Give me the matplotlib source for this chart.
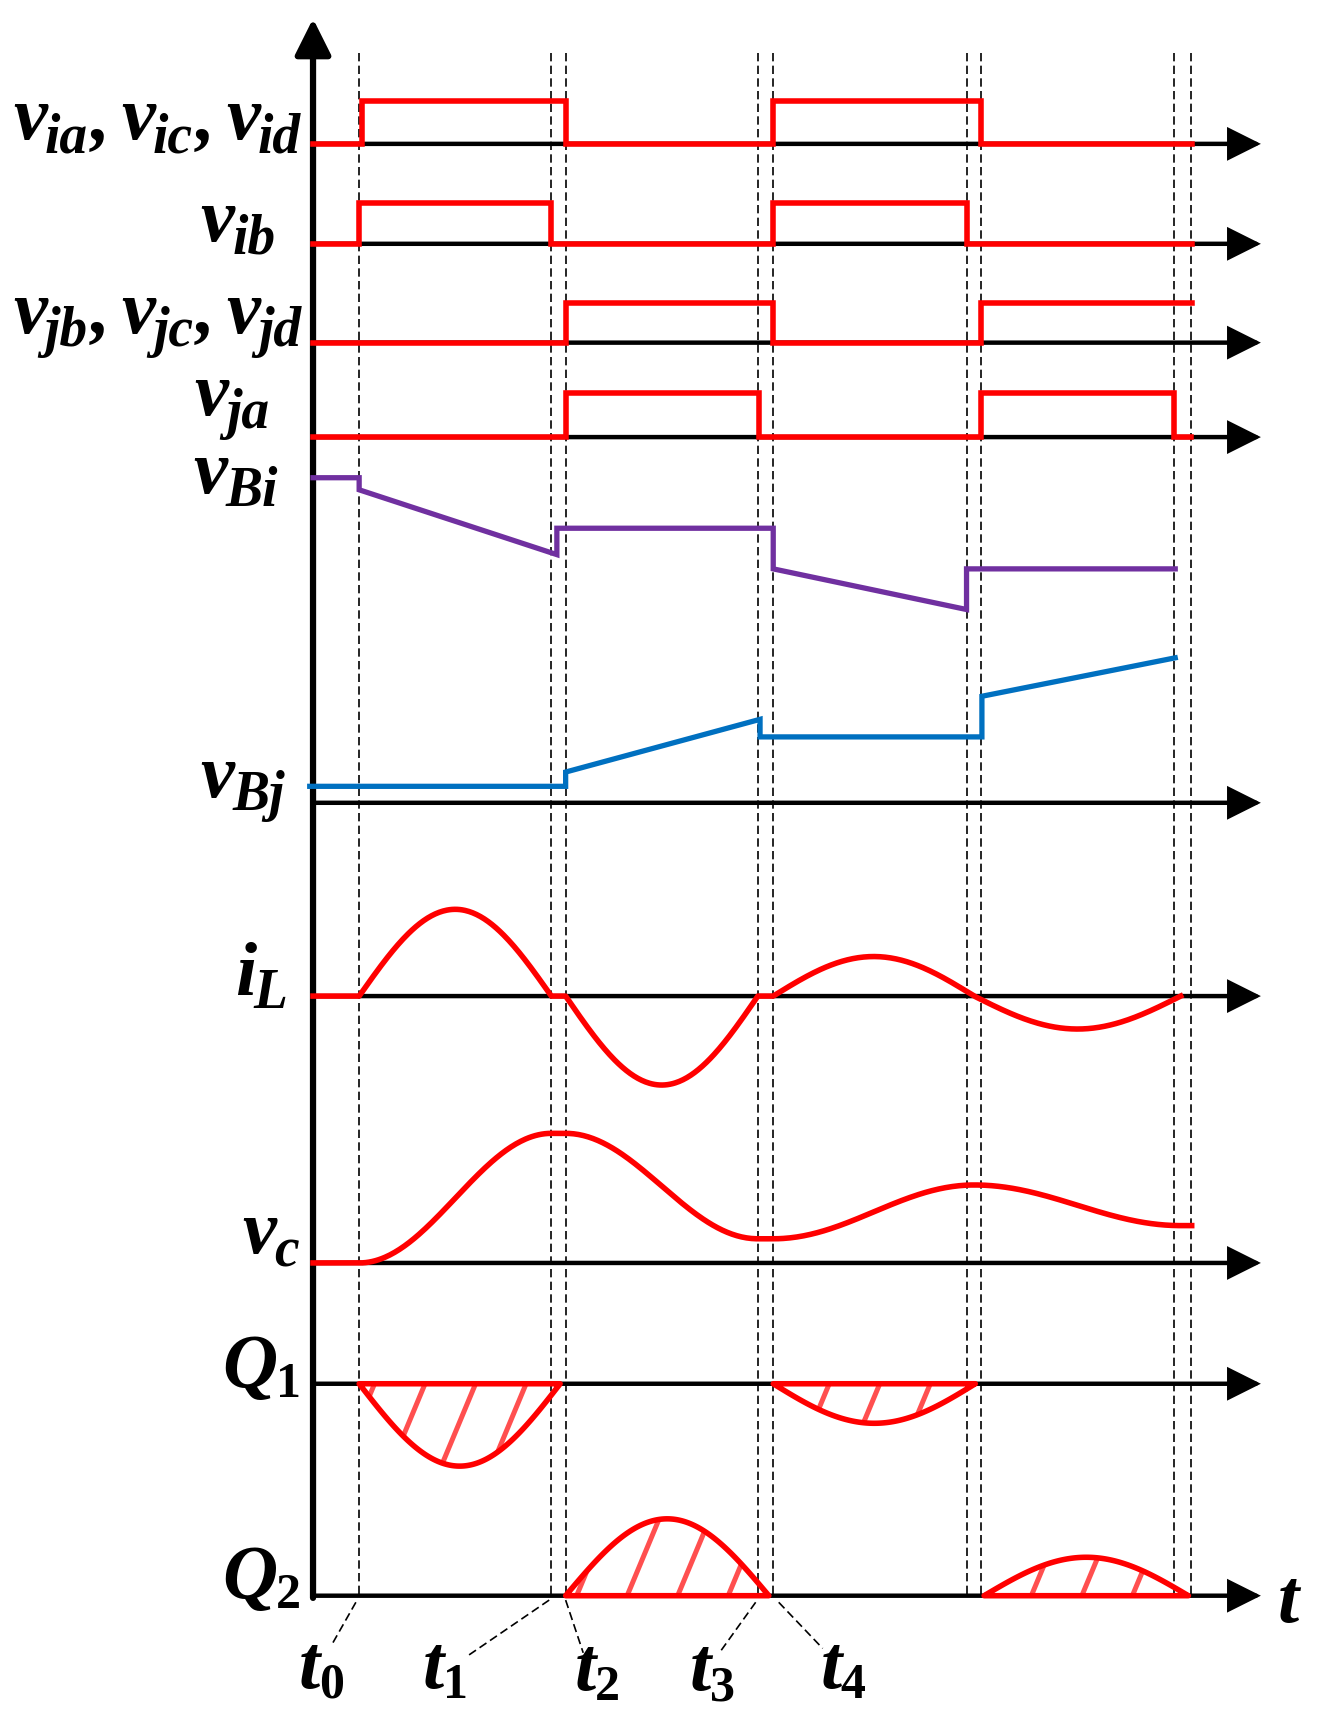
import numpy as np
import matplotlib.pyplot as plt
import matplotlib.transforms as mtransforms
from matplotlib.patches import Polygon

plt.rcParams['font.family'] = ['Liberation Serif', 'DejaVu Serif']

# ---- data (time in arbitrary units, values in arbitrary units) ----
t_marks = [0.42, 2.17, 2.30, 4.05, 4.19, 5.95, 6.08, 7.84, 7.99]

# gate signals: all start low, toggle at each edge
via_edges = [0.45, 2.30, 4.19, 6.08]
vib_edges = [0.42, 2.17, 4.19, 5.95]
vjb_edges = [2.30, 4.19, 6.08]
vja_edges = [2.30, 4.06, 6.08, 7.84]
gate_stop = [8.0, 8.0, 8.0, 7.99]

# bus voltages
vBi_t = [0.0, 0.42, 0.42, 2.22, 2.22, 4.19, 4.19, 5.95, 5.95, 7.85]
vBi_v = [29.6, 29.6, 28.5, 22.6, 25.0, 25.0, 21.3, 17.6, 21.3, 21.3]
vBj_t = [-0.03, 2.30, 2.30, 4.07, 4.07, 6.09, 6.09, 7.85]
vBj_v = [1.5, 1.5, 2.8, 7.6, 6.0, 6.0, 9.7, 13.2]

# inductor current half-waves
iL_start = [0.42, 2.30, 4.19, 6.02]
iL_stop = [2.17, 4.05, 6.02, 7.90]
iL_peak = [7.9, -8.1, 3.6, -3.0]

# capacitor voltage levels at the switching instants
vc_t = [0.42, 2.17, 2.30, 4.05, 4.19, 6.02, 7.90]
vc_v = [0.0, 11.8, 11.8, 2.2, 2.2, 7.1, 3.4]

# charge lobes
Q1_start = [0.42, 4.19]
Q1_stop = [2.25, 6.03]
Q1_peak = [-7.5, -3.6]
Q2_start = [2.30, 6.11]
Q2_stop = [4.15, 7.97]
Q2_peak = [7.0, 3.5]

# ---- layout ----
gate_base = [131, 222, 312, 398]
gate_height = [39, 37, 36, 40]
vB_base = 731
iL_base = 907
vc_base = 1150
Q1_base = 1260
Q2_base = 1453
unit = 10  # px per value unit
x_arrow = 8.63

RED = '#ff0000'
PURPLE = '#7030a0'
BLUE = '#0070c0'


def gate_trace(edges, t_stop):
    ts = [0.0]
    lv = [0]
    level = 0
    for e in edges:
        ts += [e, e]
        lv += [level, 1 - level]
        level = 1 - level
    ts.append(t_stop)
    lv.append(level)
    return np.array(ts), np.array(lv)


def half_waves(starts, stops, peaks):
    xs, ys = [], []
    for a, b, p in zip(starts, stops, peaks):
        s = np.linspace(a, b, 150)
        xs.append(s)
        ys.append(p * np.sin(np.pi * (s - a) / (b - a)))
    return np.concatenate(xs), np.concatenate(ys)


def smooth_levels(kt, kv, t_first, t_last):
    xs, ys = [t_first], [kv[0]]
    for i in range(len(kt) - 1):
        a, b = kt[i], kt[i + 1]
        s = np.linspace(a, b, 120)
        xs.extend(s)
        ys.extend(kv[i] + (kv[i + 1] - kv[i]) * (1 - np.cos(np.pi * (s - a) / (b - a))) / 2)
    xs.append(t_last)
    ys.append(kv[-1])
    return np.array(xs), np.array(ys)


fig = plt.figure(figsize=(13.18, 17.22), dpi=100)
ax = fig.add_axes([0, 0, 1, 1])
ax.set_xlim(-2.85, 9.15)
ax.set_ylim(1568, 0)
ax.axis('off')

# horizontal axes with arrows
for yb in gate_base + [vB_base, iL_base, vc_base, Q1_base, Q2_base]:
    ax.annotate('', xy=(x_arrow, yb), xytext=(0, yb),
                arrowprops=dict(arrowstyle='-|>', lw=3.2, color='k',
                                mutation_scale=48, shrinkA=0, shrinkB=0,
                                joinstyle='miter'), zorder=2)
# vertical axis
ax.annotate('', xy=(0, 17), xytext=(0, Q2_base + 2),
            arrowprops=dict(arrowstyle='-|>', lw=4.5, color='k',
                            mutation_scale=55, shrinkA=0, shrinkB=0), zorder=2)

# dashed time markers
ax.vlines(t_marks, 48, Q2_base, colors='k', lw=1.2, linestyles=(0, (5, 2.6)), zorder=3)

# gate waveforms
for edges, stop, yb, h in zip([via_edges, vib_edges, vjb_edges, vja_edges],
                              gate_stop, gate_base, gate_height):
    ts, lv = gate_trace(edges, stop)
    ax.plot(ts, yb - h * lv, color=RED, lw=4, solid_joinstyle='miter', zorder=4)

# bus voltages
ax.plot(vBi_t, vB_base - unit * np.array(vBi_v), color=PURPLE, lw=3.8,
        solid_joinstyle='miter', zorder=4)
ax.plot(vBj_t, vB_base - unit * np.array(vBj_v), color=BLUE, lw=3.8,
        solid_joinstyle='miter', zorder=4)

# inductor current
xs, ys = half_waves(iL_start, iL_stop, iL_peak)
xs = np.concatenate([[0.0], xs])
ys = np.concatenate([[0.0], ys])
ax.plot(xs, iL_base - unit * ys, color=RED, lw=4, zorder=4)

# capacitor voltage
xs, ys = smooth_levels(vc_t, vc_v, 0.0, 8.0)
ax.plot(xs, vc_base - unit * ys, color=RED, lw=4, zorder=4)


# hatched charge lobes
def lobe(a, b, p, yb):
    s = np.linspace(a, b, 150)
    yy = yb - unit * p * np.sin(np.pi * (s - a) / (b - a))
    verts = np.column_stack([s, yy])
    poly = Polygon(verts, closed=True, facecolor='none', edgecolor=RED,
                   lw=4, joinstyle='round', zorder=5)
    ax.add_patch(poly)
    clip = Polygon(verts, closed=True, facecolor='none', edgecolor='none')
    ax.add_patch(clip)
    for xk in np.arange(0.56 - 0.46 * 10, 9.0, 0.46):
        if xk < a - 0.4 or xk > b + 0.4:
            continue
        xl = np.array([xk - 0.4, xk + 0.4])
        yl = yb - 240 * (xl - xk)
        ln, = ax.plot(xl, yl, color='#ff3030', lw=3.6, alpha=0.85, zorder=4.5)
        ln.set_clip_path(clip)


for a, b, p in zip(Q1_start, Q1_stop, Q1_peak):
    lobe(a, b, p, Q1_base)
for a, b, p in zip(Q2_start, Q2_stop, Q2_peak):
    lobe(a, b, p, Q2_base)

# leader lines for time labels
leaders = [((0.39, 1459), (0.18, 1496)),
           ((2.15, 1457), (1.39, 1509)),
           ((2.30, 1457), (2.46, 1505)),
           ((4.03, 1459), (3.70, 1505)),
           ((4.24, 1459), (4.64, 1501))]
for (x0, y0), (x1, y1) in leaders:
    ax.plot([x0, x1], [y0, y1], color='k', lw=1.2, ls=(0, (5, 2.6)), zorder=3)

# ---- labels built from runs: main letter + lowered subscript ----
renderer = fig.canvas.get_renderer()
M, S, SD = 55, 40, 36      # main, letter subscript, digit subscript sizes
DROP, DDROP = -13, -10     # subscript drop in pixels


def run_width(s, size, style):
    t = ax.text(0, 0, s, fontsize=size, fontweight='bold', fontstyle=style)
    w = t.get_window_extent(renderer).width
    t.remove()
    return w


def compose(x, y, pieces, ha='right'):
    widths = [run_width(p[0], p[1], p[2]) for p in pieces]
    total = sum(w + p[4] for w, p in zip(widths, pieces)) - pieces[-1][4]
    dx = -total if ha == 'right' else 0.0
    for w, (s, size, style, dy, gap) in zip(widths, pieces):
        tr = mtransforms.offset_copy(ax.transData, fig=fig, x=dx, y=dy, units='dots')
        ax.text(x, y, s, transform=tr, fontsize=size, fontweight='bold',
                fontstyle=style, ha='left', va='baseline', color='k')
        dx += w + gap


def sym(main, sub, digit=False, tail=0):
    if digit:
        return [(main, M, 'italic', 0, -1), (sub, SD, 'normal', DDROP, tail)]
    return [(main, M, 'italic', 0, -2), (sub, S, 'italic', DROP, tail)]


def comma_list(main, subs):
    pieces = []
    for k, s in enumerate(subs):
        last = k == len(subs) - 1
        pieces += sym(main, s, tail=0 if last else 3)
        if not last:
            pieces.append((',', M, 'italic', 0, 11))
    return pieces


compose(-0.11, 127, comma_list('v', ['ia', 'ic', 'id']))
compose(-0.34, 219, sym('v', 'ib'))
compose(-0.11, 303, comma_list('v', ['jb', 'jc', 'jd']))
compose(-0.40, 378, sym('v', 'ja'))
compose(-0.32, 449, sym('v', 'Bi'))
compose(-0.26, 726, sym('v', 'Bj'))
compose(-0.23, 906, sym('i', 'L'))
compose(-0.13, 1141, sym('v', 'c'))
compose(-0.11, 1263, sym('Q', '1', digit=True))
compose(-0.11, 1455, sym('Q', '2', digit=True))
compose(8.78, 1477, [('t', M, 'italic', 0, 0)], ha='left')

t_label_x = [-0.13, 1.00, 2.38, 3.43, 4.62]
t_label_y = [1537, 1537, 1539, 1539, 1537]
for i, (x, y) in enumerate(zip(t_label_x, t_label_y)):
    compose(x, y, sym('t', str(i), digit=True), ha='left')

fig.savefig('out.png', dpi=100)
